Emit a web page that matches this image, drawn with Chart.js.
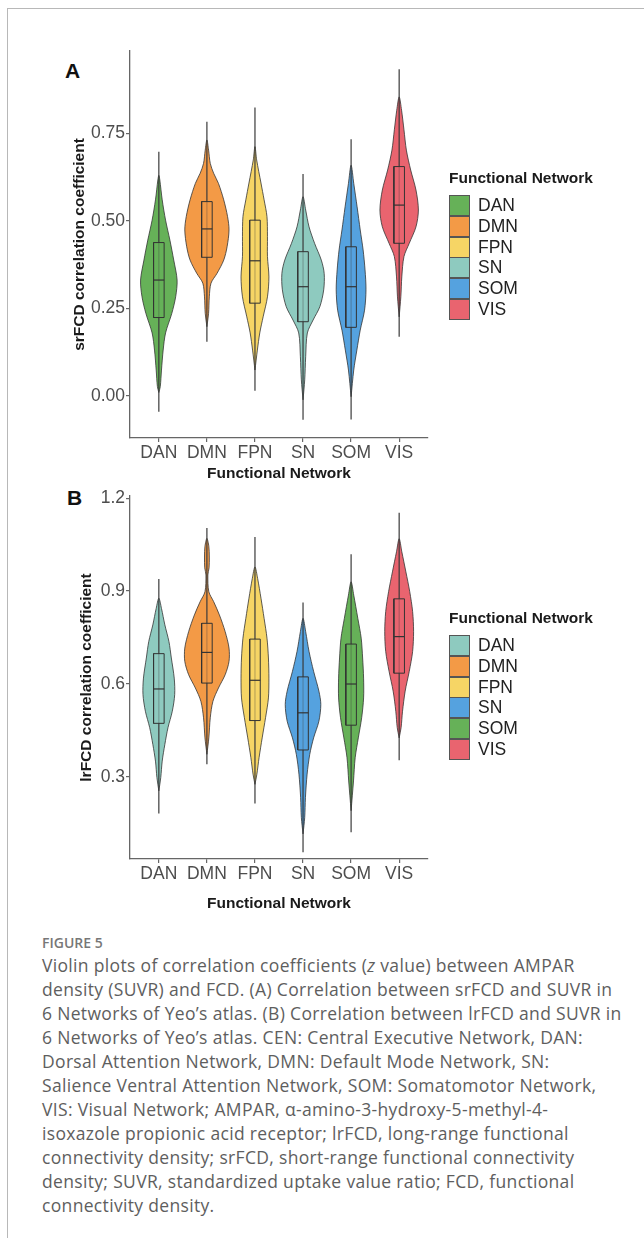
<!DOCTYPE html>
<html lang="en">
<head>
<meta charset="UTF-8">
<title>Figure 5 violin plots</title>
<script src="https://cdn.jsdelivr.net/npm/chart.js@4"></script>
<style>
    body {
        margin: 0;
        width: 644px;
        height: 1238px;
        background: #ffffff;
        position: relative;
        overflow: hidden;
        font-family: "Liberation Sans", Arial, sans-serif;
    }
    .frame {
        position: absolute;
        left: 7px;
        top: 8px;
        width: 700px;
        height: 1300px;
        border-top: 1px solid #b8b8b8;
        border-left: 1px solid #b8b8b8;
    }
    canvas { position: absolute; left: 0; }
    .panel-tag {
        position: absolute;
        font-weight: bold;
        font-size: 21px;
        color: #111;
        line-height: 1;
    }
    .legend { position: absolute; left: 449px; }
    .legend-title {
        font-weight: bold;
        font-size: 15.5px;
        color: #1a1a1a;
        height: 18px;
        line-height: 18px;
        margin-bottom: 8px;
        white-space: nowrap;
    }
    .legend-row { height: 20.8px; display: flex; align-items: center; }
    .legend-key {
        width: 19px;
        height: 19px;
        border: 1px solid #555;
        box-sizing: content-box;
        margin-right: 8px;
    }
    .legend-row span { font-size: 17.5px; color: #222; }
    .caption {
        position: absolute;
        left: 42px;
        top: 931px;
        font-family: "Open Sans", sans-serif;
        color: #5e5e5e;
    }
    .caption .fig { font-size: 14px; font-weight: 600; color: #777; height: 22px; line-height: 24px; }
    .caption .line { font-size: 17.5px; letter-spacing: 0.33px; line-height: 24px; white-space: nowrap; }
</style>
</head>
<body>
<div class="frame"></div>
<div class="panel-tag" style="left:65px; top:60px;">A</div>
<div class="panel-tag" style="left:67px; top:487px;">B</div>
<canvas id="chartA" width="644" height="500" style="top:0;"></canvas>
<canvas id="chartB" width="644" height="460" style="top:460px;"></canvas>
<div class="legend" id="legendA" style="top:169px;"></div>
<div class="legend" id="legendB" style="top:609px;"></div>
<div class="caption">
    <div class="fig">FIGURE 5</div>
    <div class="line">Violin plots of correlation coefficients (<i>z</i> value) between AMPAR</div>
    <div class="line">density (SUVR) and FCD. (A) Correlation between srFCD and SUVR in</div>
    <div class="line">6 Networks of Yeo’s atlas. (B) Correlation between lrFCD and SUVR in</div>
    <div class="line">6 Networks of Yeo’s atlas. CEN: Central Executive Network, DAN:</div>
    <div class="line">Dorsal Attention Network, DMN: Default Mode Network, SN:</div>
    <div class="line">Salience Ventral Attention Network, SOM: Somatomotor Network,</div>
    <div class="line">VIS: Visual Network; AMPAR, α-amino-3-hydroxy-5-methyl-4-</div>
    <div class="line">isoxazole propionic acid receptor; lrFCD, long-range functional</div>
    <div class="line">connectivity density; srFCD, short-range functional connectivity</div>
    <div class="line">density; SUVR, standardized uptake value ratio; FCD, functional</div>
    <div class="line">connectivity density.</div>
</div>
<script>
// categories (same order on both panels)
const networks = ['DAN', 'DMN', 'FPN', 'SN', 'SOM', 'VIS'];
const colorsA = ['#66b158', '#f39a46', '#f6d565', '#8ecabf', '#55a2df', '#e9646f'];
const colorsB = ['#8ecabf', '#f39a46', '#f6d565', '#55a2df', '#66b158', '#e9646f'];

// panel A: srFCD correlation coefficient
const srTicks = [0, 0.25, 0.5, 0.75];
const srLow = [-0.045, 0.155, 0.015, -0.068, -0.067, 0.169];
const srQ1 = [0.224, 0.396, 0.265, 0.212, 0.196, 0.436];
const srMedian = [0.331, 0.477, 0.386, 0.312, 0.312, 0.545];
const srQ3 = [0.438, 0.555, 0.502, 0.412, 0.426, 0.655];
const srHigh = [0.697, 0.783, 0.824, 0.634, 0.733, 0.933];
// violin outlines: [value, half width], bottom to top
const srShapeDAN = [[0.01, 0], [0.027, 0.03], [0.074, 0.055], [0.131, 0.09], [0.18, 0.14], [0.236, 0.27], [0.283, 0.35], [0.331, 0.38], [0.388, 0.31], [0.445, 0.23], [0.502, 0.14], [0.56, 0.07], [0.617, 0.02], [0.63, 0]];
const srShapeDMN = [[0.198, 0], [0.236, 0.035], [0.283, 0.05], [0.322, 0.085], [0.35, 0.21], [0.388, 0.35], [0.426, 0.42], [0.474, 0.46], [0.512, 0.43], [0.56, 0.35], [0.607, 0.24], [0.636, 0.14], [0.664, 0.07], [0.702, 0.035], [0.731, 0]];
const srShapeFPN = [[0.074, 0], [0.131, 0.05], [0.18, 0.1], [0.226, 0.17], [0.283, 0.26], [0.34, 0.29], [0.398, 0.26], [0.455, 0.26], [0.512, 0.25], [0.56, 0.19], [0.608, 0.125], [0.674, 0.035], [0.712, 0]];
const srShapeSN = [[-0.011, 0], [0.046, 0.035], [0.112, 0.055], [0.18, 0.09], [0.217, 0.21], [0.255, 0.35], [0.303, 0.43], [0.35, 0.44], [0.388, 0.38], [0.436, 0.24], [0.483, 0.125], [0.531, 0.055], [0.569, 0]];
const srShapeSOM = [[-0.002, 0], [0.074, 0.055], [0.131, 0.12], [0.188, 0.19], [0.245, 0.28], [0.303, 0.31], [0.36, 0.29], [0.417, 0.25], [0.474, 0.19], [0.54, 0.125], [0.607, 0.055], [0.659, 0]];
const srShapeVIS = [[0.226, 0], [0.283, 0.035], [0.34, 0.055], [0.398, 0.1], [0.436, 0.21], [0.483, 0.35], [0.531, 0.4], [0.588, 0.35], [0.645, 0.24], [0.702, 0.15], [0.76, 0.1], [0.816, 0.05], [0.854, 0]];

// panel B: lrFCD correlation coefficient
const lrTicks = [0.3, 0.6, 0.9, 1.2];
const lrLow = [0.182, 0.341, 0.214, 0.057, 0.121, 0.354];
const lrQ1 = [0.473, 0.603, 0.482, 0.387, 0.467, 0.635];
const lrMedian = [0.584, 0.702, 0.612, 0.507, 0.600, 0.753];
const lrQ3 = [0.698, 0.796, 0.745, 0.623, 0.729, 0.875];
const lrHigh = [0.939, 1.104, 1.075, 0.863, 1.019, 1.153];
const lrShapeDAN = [[0.255, 0], [0.298, 0.04], [0.351, 0.07], [0.405, 0.125], [0.459, 0.19], [0.512, 0.28], [0.566, 0.33], [0.619, 0.32], [0.684, 0.26], [0.737, 0.21], [0.791, 0.125], [0.844, 0.055], [0.877, 0]];
const lrShapeDMN = [[0.373, 0], [0.426, 0.04], [0.491, 0.07], [0.544, 0.125], [0.587, 0.24], [0.63, 0.38], [0.673, 0.46], [0.716, 0.46], [0.769, 0.38], [0.823, 0.26], [0.866, 0.14], [0.898, 0.04], [0.952, 0.02], [0.975, 0.045], [1.01, 0.05], [1.045, 0.04], [1.07, 0]];
const lrShapeFPN = [[0.276, 0], [0.309, 0.04], [0.362, 0.085], [0.426, 0.15], [0.491, 0.22], [0.555, 0.28], [0.619, 0.29], [0.684, 0.28], [0.748, 0.25], [0.812, 0.19], [0.877, 0.125], [0.941, 0.055], [0.978, 0]];
const lrShapeSN = [[0.116, 0], [0.169, 0.035], [0.233, 0.05], [0.309, 0.085], [0.373, 0.14], [0.426, 0.22], [0.48, 0.33], [0.534, 0.37], [0.577, 0.33], [0.641, 0.22], [0.705, 0.125], [0.769, 0.055], [0.812, 0]];
const lrShapeSOM = [[0.191, 0], [0.287, 0.05], [0.362, 0.085], [0.426, 0.15], [0.491, 0.22], [0.555, 0.26], [0.619, 0.26], [0.684, 0.24], [0.748, 0.21], [0.812, 0.14], [0.887, 0.055], [0.93, 0]];
const lrShapeVIS = [[0.426, 0], [0.459, 0.04], [0.512, 0.07], [0.577, 0.125], [0.641, 0.21], [0.705, 0.28], [0.769, 0.3], [0.834, 0.28], [0.898, 0.22], [0.962, 0.14], [1.027, 0.055], [1.069, 0]];

const BOX_HALF = 0.11;
const INK = '#333333';
const AXIS_GREY = '#666666';
const TICK_GREY = '#4d4d4d';

Chart.defaults.font.family = '"Liberation Sans", Arial, sans-serif';

// closed outline of a violin around its category position
function violinOutline(center, shape) {
    const right = shape.map(([v, w]) => ({x: center + w, y: v}));
    const left = shape.slice().reverse().map(([v, w]) => ({x: center - w, y: v}));
    return right.concat(left.slice(1));
}

function buildDatasets(shapes, colors, low, q1, med, q3, high) {
    const sets = [];
    shapes.forEach((shape, i) => {
        const c = i + 1;
        sets.push({
            data: violinOutline(c, shape),
            backgroundColor: colors[i],
            borderColor: INK,
            borderWidth: 0.8,
            fill: 'shape',
            tension: 0.3,
            order: 4
        });
        sets.push({
            data: [{x: c, y: low[i]}, {x: c, y: high[i]}],
            borderColor: '#3a3a3a',
            borderWidth: 1.2,
            fill: false,
            order: 3
        });
        sets.push({
            data: [
                {x: c - BOX_HALF, y: q1[i]}, {x: c + BOX_HALF, y: q1[i]},
                {x: c + BOX_HALF, y: q3[i]}, {x: c - BOX_HALF, y: q3[i]},
                {x: c - BOX_HALF, y: q1[i]}
            ],
            backgroundColor: colors[i] + 'b0',
            borderColor: INK,
            borderWidth: 1,
            fill: 'shape',
            tension: 0,
            order: 2
        });
        sets.push({
            data: [{x: c - BOX_HALF, y: med[i]}, {x: c + BOX_HALF, y: med[i]}],
            borderColor: INK,
            borderWidth: 1.2,
            fill: false,
            order: 1
        });
    });
    return sets;
}

function makeChart(id, cfg) {
    const axisFont = {size: 17.5};
    const titleFont = {size: 15.5, weight: 'bold'};
    return new Chart(document.getElementById(id), {
        type: 'line',
        data: {datasets: cfg.datasets},
        options: {
            responsive: false,
            animation: false,
            devicePixelRatio: 1,
            layout: {padding: {top: cfg.top, right: 216, left: 0, bottom: 0}},
            elements: {point: {radius: 0, hoverRadius: 0}, line: {borderJoinStyle: 'round'}},
            plugins: {legend: {display: false}, tooltip: {enabled: false}},
            events: [],
            scales: {
                x: {
                    type: 'linear',
                    min: 0.4,
                    max: 6.6,
                    afterBuildTicks: axis => { axis.ticks = networks.map((n, i) => ({value: i + 1})); },
                    afterFit: axis => { axis.height = cfg.xHeight; },
                    ticks: {
                        callback: v => networks[v - 1],
                        color: TICK_GREY,
                        font: axisFont,
                        padding: 1,
                        maxRotation: 0,
                        autoSkip: false
                    },
                    grid: {drawOnChartArea: false, tickLength: 4, color: AXIS_GREY, lineWidth: 1.2},
                    border: {color: AXIS_GREY, width: 1.3},
                    title: {
                        display: true,
                        text: 'Functional Network',
                        color: '#1a1a1a',
                        font: titleFont,
                        padding: {top: 0, bottom: cfg.xTitlePad}
                    }
                },
                y: {
                    type: 'linear',
                    min: cfg.yMin,
                    max: cfg.yMax,
                    afterBuildTicks: axis => { axis.ticks = cfg.ticks.map(v => ({value: v})); },
                    afterFit: axis => { axis.width = 130; },
                    ticks: {
                        callback: v => v.toFixed(cfg.decimals),
                        color: TICK_GREY,
                        font: axisFont,
                        padding: 1
                    },
                    grid: {drawOnChartArea: false, tickLength: 4, color: AXIS_GREY, lineWidth: 1.2},
                    border: {color: AXIS_GREY, width: 1.3},
                    title: {
                        display: true,
                        text: cfg.yTitle,
                        color: '#1a1a1a',
                        font: titleFont,
                        padding: {top: cfg.yTitlePad, bottom: 0}
                    }
                }
            }
        }
    });
}

makeChart('chartA', {
    datasets: buildDatasets([srShapeDAN, srShapeDMN, srShapeFPN, srShapeSN, srShapeSOM, srShapeVIS],
        colorsA, srLow, srQ1, srMedian, srQ3, srHigh),
    top: 51, xHeight: 62, xTitlePad: 16.5,
    yMin: -0.12, yMax: 0.985, ticks: srTicks, decimals: 2,
    yTitle: 'srFCD correlation coefficient', yTitlePad: 70.7
});

makeChart('chartB', {
    datasets: buildDatasets([lrShapeDAN, lrShapeDMN, lrShapeFPN, lrShapeSN, lrShapeSOM, lrShapeVIS],
        colorsB, lrLow, lrQ1, lrMedian, lrQ3, lrHigh),
    top: 36, xHeight: 61, xTitlePad: 6.7,
    yMin: 0.035, yMax: 1.207, ticks: lrTicks, decimals: 1,
    yTitle: 'lrFCD correlation coefficient', yTitlePad: 77.7
});

// legends
function fillLegend(id, colors) {
    const box = document.getElementById(id);
    let html = '<div class="legend-title">Functional Network</div>';
    networks.forEach((n, i) => {
        html += '<div class="legend-row"><div class="legend-key" style="background:' + colors[i] + '"></div><span>' + n + '</span></div>';
    });
    box.innerHTML = html;
}
fillLegend('legendA', colorsA);
fillLegend('legendB', colorsB);
</script>
</body>
</html>
